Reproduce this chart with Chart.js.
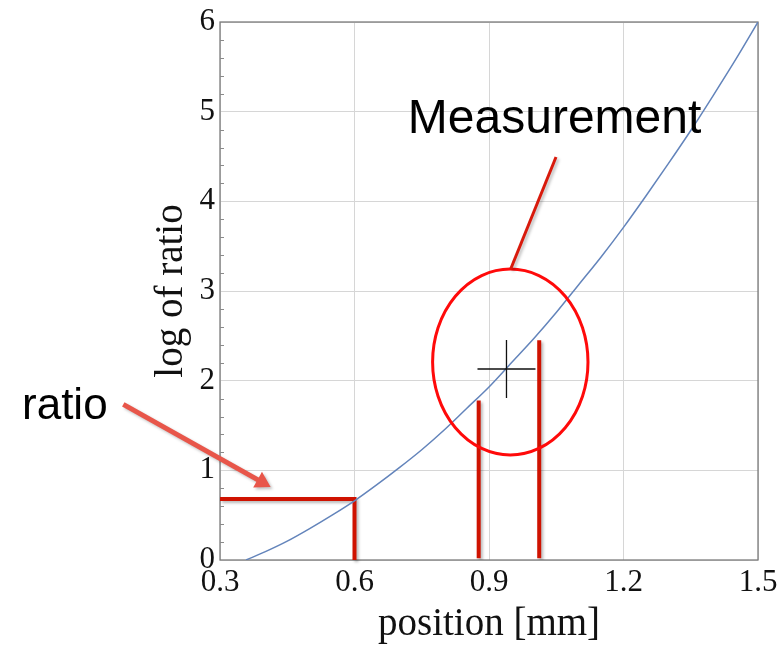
<!DOCTYPE html>
<html>
<head>
<meta charset="utf-8">
<script src="https://cdn.jsdelivr.net/npm/chart.js@4.4.1/dist/chart.umd.min.js"></script>
<style>
  html, body { margin: 0; padding: 0; background: #ffffff; }
  #wrap { width: 781px; height: 648px; position: relative; }
</style>
</head>
<body>
<div id="wrap"><canvas id="c"></canvas></div>
<script>
// Calibration curve: log of ratio against position
const curveX = [0.358, 0.40, 0.45, 0.50, 0.55, 0.60, 0.65, 0.70, 0.75, 0.80, 0.85, 0.90,
                0.95, 1.00, 1.05, 1.10, 1.15, 1.20, 1.25, 1.30, 1.35, 1.40, 1.45, 1.50];
const curveY = [0.00, 0.09, 0.21, 0.35, 0.50, 0.66, 0.84, 1.03, 1.23, 1.45, 1.69, 1.93,
                2.20, 2.47, 2.76, 3.07, 3.38, 3.71, 4.06, 4.42, 4.79, 5.18, 5.58, 6.00];

// Reading of the ratio at a known position (horizontal + vertical guide)
const ratioPathX = [0.30, 0.60, 0.60];
const ratioPathY = [0.68, 0.68, 0.00];

// Measurement interval bounds (two vertical bars)
const barX = [0.877, 1.012];
const barTop = [1.78, 2.45];
const barBase = 0.02;

// Measured point
const measureX = [0.939];
const measureY = [2.13];

// Ring around the measurement and its callout
const ringCenter = [0.9475, 2.208];
const ringRadius = [0.1733, 1.037];
const calloutFrom = [1.0495, 4.494];
const calloutTo = [0.9484, 3.245];
const calloutText = 'Measurement';
const calloutTextAt = [0.719, 4.762];

// Arrow pointing at the ratio guide
const arrowFrom = [0.0843, 1.736];
const arrowTo = [0.413, 0.814];
const arrowText = 'ratio';
const arrowTextAt = [-0.1416, 1.5725];

// Axis ticks
const xTickValues = [0.3, 0.6, 0.9, 1.2, 1.5];
const xTickLabels = ['0.3', '0.6', '0.9', '1.2', '1.5'];
const yTickValues = [0, 1, 2, 3, 4, 5, 6];
const yTickLabels = ['0', '1', '2', '3', '4', '5', '6'];
const yMinorPerMajor = 5;

const toPoints = (xs, ys) => xs.map((v, i) => ({ x: v, y: ys[i] }));

const DARK_RED = '#cf1200';

// Frame and minor ticks under the data
const framePlugin = {
  id: 'frame',
  beforeDatasetsDraw(chart) {
    const { ctx, chartArea: a, scales: { y } } = chart;
    ctx.save();
    ctx.strokeStyle = '#7c7c7c';
    ctx.lineWidth = 1.3;
    ctx.strokeRect(a.left, a.top, a.right - a.left, a.bottom - a.top);
    ctx.lineWidth = 1;
    ctx.strokeStyle = '#8a8a8a';
    ctx.beginPath();
    for (let i = 0; i < yTickValues.length - 1; i++) {
      for (let k = 1; k < yMinorPerMajor; k++) {
        const v = yTickValues[i] + (yTickValues[i + 1] - yTickValues[i]) * k / yMinorPerMajor;
        const p = Math.round(y.getPixelForValue(v)) + 0.5;
        ctx.moveTo(a.left, p);
        ctx.lineTo(a.left + 4, p);
      }
    }
    ctx.stroke();
    ctx.restore();
  }
};

// Soft drop shadow for the red guide lines
const shadowPlugin = {
  id: 'shadow',
  beforeDatasetDraw(chart, args) {
    const ds = chart.data.datasets[args.index];
    chart.ctx.save();
    if (ds.shadow) {
      chart.ctx.shadowColor = 'rgba(0,0,0,0.28)';
      chart.ctx.shadowBlur = 3;
      chart.ctx.shadowOffsetX = 2;
      chart.ctx.shadowOffsetY = 2;
    }
  },
  afterDatasetDraw(chart) {
    chart.ctx.restore();
  }
};

// Ring, callout line, arrow and labels
const notesPlugin = {
  id: 'notes',
  afterDatasetsDraw(chart) {
    const { ctx, scales: { x, y } } = chart;
    const P = (pt) => [x.getPixelForValue(pt[0]), y.getPixelForValue(pt[1])];
    ctx.save();

    // ring
    const c = P(ringCenter);
    const rx = x.getPixelForValue(ringCenter[0] + ringRadius[0]) - c[0];
    const ry = c[1] - y.getPixelForValue(ringCenter[1] + ringRadius[1]);
    ctx.strokeStyle = '#ff0a0a';
    ctx.lineWidth = 3;
    ctx.beginPath();
    ctx.ellipse(c[0], c[1], rx, ry, 0, 0, Math.PI * 2);
    ctx.stroke();

    // callout line
    ctx.shadowColor = 'rgba(0,0,0,0.25)';
    ctx.shadowBlur = 3;
    ctx.shadowOffsetX = 2;
    ctx.shadowOffsetY = 2;
    const f = P(calloutFrom), t = P(calloutTo);
    ctx.strokeStyle = '#d81a0c';
    ctx.lineWidth = 3;
    ctx.beginPath();
    ctx.moveTo(f[0], f[1]);
    ctx.lineTo(t[0], t[1]);
    ctx.stroke();

    // arrow
    const a0 = P(arrowFrom), a1 = P(arrowTo);
    const dx = a1[0] - a0[0], dy = a1[1] - a0[1];
    const len = Math.hypot(dx, dy);
    const ux = dx / len, uy = dy / len;
    const headLen = 15, headHalf = 9;
    const bx = a1[0] - ux * headLen, by = a1[1] - uy * headLen;
    ctx.strokeStyle = '#e8564a';
    ctx.fillStyle = '#e8564a';
    ctx.lineWidth = 5;
    ctx.beginPath();
    ctx.moveTo(a0[0], a0[1]);
    ctx.lineTo(bx + ux * 2, by + uy * 2);
    ctx.stroke();
    ctx.beginPath();
    ctx.moveTo(a1[0], a1[1]);
    ctx.lineTo(bx - uy * headHalf, by + ux * headHalf);
    ctx.lineTo(bx + uy * headHalf, by - ux * headHalf);
    ctx.closePath();
    ctx.fill();

    // labels
    ctx.shadowColor = 'transparent';
    ctx.fillStyle = '#000000';
    ctx.textAlign = 'left';
    ctx.textBaseline = 'alphabetic';
    ctx.font = '48px "Liberation Sans", Arial, sans-serif';
    const mt = P(calloutTextAt);
    ctx.fillText(calloutText, mt[0], mt[1]);
    ctx.font = '44px "Liberation Sans", Arial, sans-serif';
    const rt = P(arrowTextAt);
    ctx.fillText(arrowText, rt[0], rt[1]);

    ctx.restore();
  }
};

const serif = '"Liberation Serif", "Times New Roman", serif';

new Chart(document.getElementById('c'), {
  type: 'scatter',
  data: {
    datasets: [
      {
        label: 'crosshair',
        data: toPoints(measureX, measureY),
        showLine: false,
        pointStyle: 'cross',
        pointRadius: 29,
        pointBorderColor: '#111111',
        pointBorderWidth: 1.3,
        order: 0
      },
      {
        label: 'curve',
        data: toPoints(curveX, curveY),
        showLine: true,
        borderColor: '#6384bb',
        borderWidth: 1.5,
        pointRadius: 0,
        tension: 0.4,
        cubicInterpolationMode: 'monotone',
        order: 1
      },
      {
        label: 'ratio',
        data: toPoints(ratioPathX, ratioPathY),
        showLine: true,
        borderColor: DARK_RED,
        borderWidth: 4,
        borderJoinStyle: 'miter',
        pointRadius: 0,
        clip: false,
        shadow: true,
        order: 2
      },
      {
        label: 'low',
        data: [{ x: barX[0], y: barBase }, { x: barX[0], y: barTop[0] }],
        showLine: true,
        borderColor: DARK_RED,
        borderWidth: 4,
        pointRadius: 0,
        shadow: true,
        order: 3
      },
      {
        label: 'high',
        data: [{ x: barX[1], y: barBase }, { x: barX[1], y: barTop[1] }],
        showLine: true,
        borderColor: DARK_RED,
        borderWidth: 4,
        pointRadius: 0,
        shadow: true,
        order: 4
      }
    ]
  },
  options: {
    responsive: true,
    maintainAspectRatio: false,
    animation: false,
    events: [],
    layout: { autoPadding: false, padding: { left: 140, right: 23, top: 22, bottom: 0 } },
    plugins: { legend: { display: false }, tooltip: { enabled: false } },
    scales: {
      x: {
        type: 'linear',
        min: xTickValues[0],
        max: xTickValues[xTickValues.length - 1],
        afterBuildTicks: (s) => { s.ticks = xTickValues.map(v => ({ value: v })); },
        afterFit: (s) => { s.height = 88; s.paddingLeft = 0; s.paddingRight = 0; },
        ticks: {
          callback: (v, i) => xTickLabels[i],
          font: { family: serif, size: 31 },
          color: '#111111',
          padding: 4,
          maxRotation: 0,
          autoSkip: false
        },
        grid: { color: '#d6d6d6', lineWidth: 1, drawTicks: false },
        border: { display: false },
        title: {
          display: true,
          text: 'position [mm]',
          font: { family: serif, size: 39 },
          color: '#111111',
          padding: { top: 0, bottom: 0 }
        }
      },
      y: {
        type: 'linear',
        min: yTickValues[0],
        max: yTickValues[yTickValues.length - 1],
        afterBuildTicks: (s) => { s.ticks = yTickValues.map(v => ({ value: v })); },
        afterFit: (s) => { s.width = 80; s.paddingTop = 0; s.paddingBottom = 0; },
        ticks: {
          callback: (v, i) => yTickLabels[i],
          font: { family: serif, size: 31 },
          color: '#111111',
          padding: 5,
          autoSkip: false
        },
        grid: { color: '#d6d6d6', lineWidth: 1, drawTicks: false },
        border: { display: false },
        title: {
          display: true,
          text: 'log of ratio',
          font: { family: serif, size: 39 },
          color: '#111111',
          padding: { top: 8, bottom: 0 }
        }
      }
    }
  },
  plugins: [framePlugin, shadowPlugin, notesPlugin]
});
</script>
</body>
</html>
